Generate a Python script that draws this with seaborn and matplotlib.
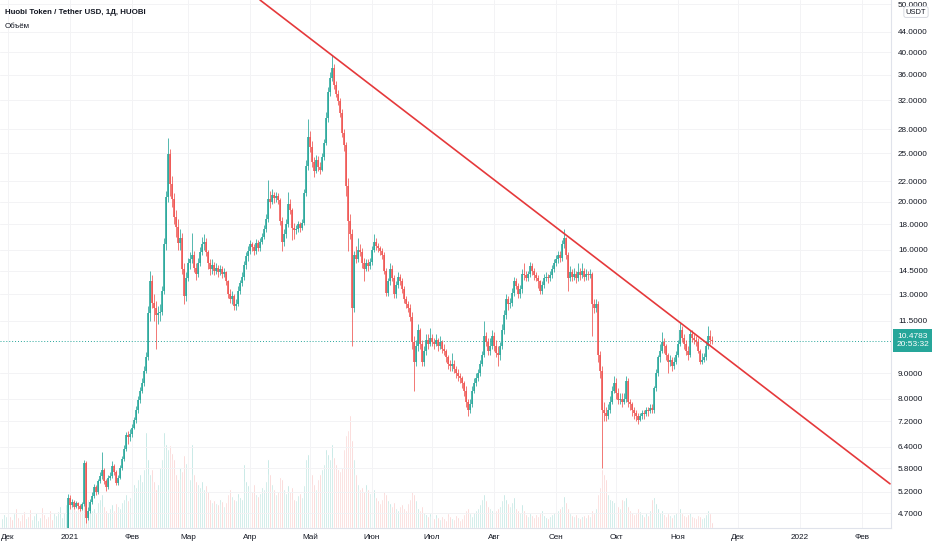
import numpy as np
import pandas as pd
import matplotlib
matplotlib.use('Agg')
import matplotlib.pyplot as plt
import matplotlib.transforms as mtransforms
from matplotlib.ticker import FixedLocator, FixedFormatter, NullLocator
import seaborn as sns

# daily HT/USDT candles, 2020-11-28 .. 2021-11-18 (open = previous close)
start_date = '2020-11-28'
first_open = 4.18

close = [
    4.20, 4.24, 4.30,
    # Dec
    4.32, 4.28, 4.25, 4.27, 4.23, 4.20, 4.18, 4.16, 4.14, 4.17, 4.15, 4.12, 4.14, 4.17, 4.19, 4.22,
    4.25, 4.21, 4.18, 4.16, 4.14, 4.12, 4.10, 4.13, 4.16, 4.19, 4.21, 4.23, 4.26, 4.28, 5.05,
    # Jan
    4.88, 4.95, 4.85, 4.92, 4.86, 4.80, 4.90, 5.95, 4.60, 4.75, 4.95, 5.10, 5.30, 5.20, 5.45, 5.60,
    5.75, 5.45, 5.30, 5.55, 5.60, 5.85, 5.70, 5.40, 5.55, 5.80, 6.05, 6.35, 6.75, 6.70, 6.80,
    # Feb
    7.00, 7.25, 7.60, 7.95, 8.30, 8.60, 9.10, 9.70, 11.9, 13.8, 12.5, 12.2, 11.8, 11.9, 12.0, 13.2,
    16.4, 20.4, 24.9, 21.7, 20.2, 18.6, 17.8, 16.5, 16.9, 14.6, 12.9, 14.0,
    # Mar
    15.0, 15.3, 15.6, 14.7, 14.3, 15.0, 15.8, 16.4, 16.6, 15.8, 15.0, 14.6, 14.9, 14.5, 14.7, 14.4,
    14.6, 14.3, 14.4, 13.8, 13.0, 12.7, 12.9, 12.3, 12.4, 13.2, 13.7, 14.1, 14.9, 15.5, 15.9,
    # Apr
    16.4, 16.2, 15.9, 16.5, 16.1, 16.6, 17.0, 17.6, 18.4, 20.2, 20.0, 20.6, 20.3, 20.5, 20.1, 18.3,
    16.6, 17.2, 18.0, 19.8, 19.2, 17.7, 17.5, 17.6, 18.0, 17.7, 18.1, 20.8, 23.6, 27.0,
    # May
    25.8, 24.0, 23.0, 24.2, 23.5, 23.2, 24.6, 26.3, 29.5, 33.2, 35.5, 37.2, 34.3, 33.0, 31.9, 30.2,
    27.5, 26.0, 21.5, 18.3, 17.2, 12.2, 15.6, 15.3, 16.0, 15.8, 15.0, 14.6, 15.0, 14.8, 15.1,
    # Jun
    16.0, 16.6, 16.3, 16.1, 15.9, 15.6, 14.5, 13.1, 13.8, 14.6, 14.0, 13.0, 13.6, 14.1, 13.8, 13.3,
    12.7, 12.4, 12.2, 11.7, 10.4, 9.5, 10.2, 11.0, 10.3, 9.5, 10.0, 10.5, 10.3, 10.6,
    # Jul
    10.4, 10.3, 10.5, 10.2, 10.4, 10.1, 10.0, 9.7, 9.4, 9.3, 9.4, 9.2, 9.0, 8.9, 8.8, 8.6,
    8.3, 7.9, 7.6, 7.8, 8.3, 8.6, 8.8, 9.0, 9.4, 9.8, 10.7, 10.4, 10.0, 10.2, 10.7,
    # Aug
    10.2, 9.9, 9.8, 10.2, 11.0, 11.8, 12.7, 12.4, 12.5, 13.1, 13.8, 13.5, 13.0, 13.3, 14.3, 14.2,
    14.0, 14.3, 14.8, 14.5, 14.2, 14.0, 13.8, 13.2, 13.6, 14.0, 14.1, 14.0, 14.2, 14.6, 15.0,
    # Sep
    15.3, 15.6, 15.4, 16.4, 16.9, 15.6, 14.0, 14.4, 14.1, 14.3, 14.0, 14.4, 14.2, 14.5, 14.1, 14.3,
    14.2, 14.3, 12.4, 12.2, 12.4, 9.8, 9.1, 7.6, 7.5, 7.4, 7.6, 7.9, 8.3, 8.6,
    # Oct
    8.2, 7.95, 8.0, 7.9, 8.0, 8.7, 7.9, 7.8, 7.6, 7.5, 7.4, 7.25, 7.4, 7.5, 7.45, 7.6,
    7.55, 7.65, 7.6, 8.4, 9.0, 9.7, 10.0, 10.4, 10.2, 9.8, 9.5, 9.6, 9.3, 9.5, 9.8,
    # Nov
    10.3, 11.0, 10.6, 10.3, 10.0, 9.8, 10.8, 10.6, 10.5, 10.4, 10.0, 9.5, 9.6, 9.7, 10.2, 10.7,
    10.5, 10.4783,
]

high = [
    4.26, 4.28, 4.34,
    4.36, 4.35, 4.31, 4.30, 4.29, 4.25, 4.22, 4.20, 4.19, 4.20, 4.19, 4.17, 4.17, 4.20, 4.22, 4.25,
    4.28, 4.27, 4.23, 4.20, 4.18, 4.16, 4.14, 4.16, 4.19, 4.22, 4.24, 4.26, 4.29, 4.32, 5.15,
    5.12, 5.02, 4.99, 4.97, 4.95, 4.90, 4.96, 6.02, 6.00, 4.85, 5.02, 5.18, 5.38, 5.36, 5.52, 5.70,
    6.25, 5.80, 5.50, 5.62, 5.70, 6.00, 5.90, 5.75, 5.62, 5.88, 6.12, 6.45, 6.85, 6.90, 6.95,
    7.10, 7.35, 7.75, 8.10, 8.45, 8.80, 9.30, 9.95, 12.3, 14.5, 14.2, 13.0, 12.6, 12.3, 12.4, 13.5,
    16.9, 21.0, 26.9, 25.5, 22.5, 20.8, 19.2, 18.4, 17.6, 17.3, 15.0, 14.4,
    15.4, 15.8, 17.3, 15.9, 15.0, 15.4, 16.2, 17.0, 17.2, 16.9, 16.0, 15.3, 15.3, 15.1, 15.0, 14.9,
    14.9, 14.8, 14.7, 14.5, 13.9, 13.3, 13.2, 13.0, 12.7, 13.5, 13.9, 14.4, 15.2, 15.8, 16.3,
    16.7, 16.6, 16.4, 16.8, 16.7, 16.9, 17.3, 17.9, 18.9, 22.1, 21.0, 21.2, 20.9, 20.9, 20.8, 20.3,
    18.6, 17.6, 18.4, 20.9, 20.2, 19.4, 18.1, 17.9, 18.3, 18.2, 18.4, 21.2, 24.2, 29.3,
    27.8, 26.5, 24.6, 24.8, 24.7, 24.0, 25.0, 26.8, 30.3, 34.0, 36.5, 39.5, 37.8, 35.0, 33.6, 32.4,
    30.8, 28.0, 26.4, 22.3, 18.9, 17.6, 15.9, 16.3, 16.9, 16.4, 16.1, 15.4, 15.3, 15.3, 15.4,
    16.3, 17.2, 16.9, 16.5, 16.3, 16.1, 15.8, 14.7, 14.0, 15.0, 14.9, 14.2, 13.8, 14.4, 14.3, 14.0,
    13.5, 12.9, 12.6, 12.4, 12.0, 10.7, 10.5, 11.3, 11.1, 10.5, 10.2, 10.8, 10.8, 11.1,
    10.8, 10.6, 10.8, 10.6, 10.7, 10.5, 10.3, 10.1, 9.8, 9.6, 9.9, 9.6, 9.3, 9.2, 9.0, 8.9,
    8.7, 8.5, 8.0, 8.0, 8.5, 8.8, 9.0, 9.2, 9.6, 10.0, 11.5, 10.9, 10.6, 10.6, 11.0,
    10.9, 10.5, 10.2, 10.4, 11.3, 12.1, 13.0, 12.9, 12.8, 13.4, 14.1, 14.0, 13.7, 13.6, 14.6, 15.0,
    14.5, 14.5, 15.1, 15.0, 14.7, 14.4, 14.2, 13.9, 13.8, 14.3, 14.4, 14.3, 14.5, 14.9, 15.3,
    15.6, 15.9, 15.9, 16.7, 17.6, 17.0, 15.8, 14.8, 14.6, 14.7, 14.5, 15.0, 14.7, 15.0, 14.7, 14.6,
    14.5, 14.6, 14.4, 12.7, 12.7, 12.6, 10.0, 9.3, 7.9, 7.7, 7.8, 8.1, 8.5, 8.9,
    8.8, 8.4, 8.2, 8.2, 8.2, 8.9, 8.8, 8.0, 7.9, 7.7, 7.6, 7.5, 7.5, 7.6, 7.6, 7.7,
    7.7, 7.8, 7.8, 8.5, 9.2, 9.8, 10.3, 10.9, 10.6, 10.3, 9.9, 9.8, 9.7, 9.7, 10.0,
    10.5, 11.4, 11.2, 10.8, 10.5, 10.2, 11.0, 11.0, 10.8, 10.7, 10.6, 10.1, 9.9, 9.9, 10.4, 11.2,
    11.0, 10.7,
]

low = [
    4.14, 4.18, 4.21,
    4.27, 4.25, 4.22, 4.22, 4.20, 4.17, 4.15, 4.13, 4.11, 4.12, 4.12, 4.09, 4.10, 4.12, 4.15, 4.17,
    4.20, 4.18, 4.15, 4.13, 4.11, 4.09, 4.07, 4.08, 4.11, 4.14, 4.17, 4.19, 4.21, 4.23, 4.25,
    4.80, 4.84, 4.80, 4.82, 4.80, 4.74, 4.78, 4.86, 4.50, 4.55, 4.70, 4.90, 5.05, 5.12, 5.15, 5.40,
    5.52, 5.38, 5.22, 5.25, 5.48, 5.55, 5.62, 5.35, 5.35, 5.50, 5.75, 5.98, 6.28, 6.50, 6.58,
    6.70, 6.95, 7.15, 7.50, 7.85, 8.20, 8.50, 9.00, 9.60, 11.5, 12.2, 11.5, 10.1, 11.3, 11.5, 11.8,
    13.0, 16.0, 20.0, 20.5, 19.5, 18.0, 17.0, 16.0, 16.0, 14.3, 12.4, 12.6,
    13.8, 14.6, 15.0, 14.4, 13.9, 14.1, 14.8, 15.6, 16.0, 15.5, 14.6, 14.2, 14.3, 14.2, 14.3, 14.1,
    14.2, 14.0, 14.1, 13.6, 12.8, 12.5, 12.4, 12.1, 12.1, 12.3, 13.0, 13.5, 13.9, 14.6, 15.2,
    15.7, 15.9, 15.6, 15.7, 15.9, 15.9, 16.4, 16.8, 17.4, 18.2, 19.4, 19.8, 19.9, 20.0, 19.8, 17.9,
    15.9, 16.3, 16.9, 17.8, 18.9, 16.7, 16.8, 17.2, 17.4, 17.4, 17.5, 17.9, 20.5, 23.2,
    25.2, 23.5, 22.4, 22.8, 23.0, 22.7, 23.0, 24.3, 26.0, 29.0, 32.6, 35.0, 33.8, 32.5, 31.3, 29.6,
    27.0, 25.3, 20.5, 15.9, 16.8, 10.2, 12.0, 15.0, 15.1, 15.5, 14.7, 13.8, 14.5, 14.5, 14.6,
    14.9, 15.8, 16.0, 15.8, 15.6, 15.3, 14.3, 12.9, 12.9, 13.6, 13.8, 12.8, 12.8, 13.4, 13.6, 13.1,
    12.5, 12.2, 12.0, 11.5, 10.1, 8.3, 9.3, 10.0, 10.1, 9.3, 9.3, 9.8, 10.1, 10.2,
    10.2, 10.1, 10.2, 10.0, 10.1, 9.9, 9.8, 9.5, 9.2, 9.1, 9.1, 9.0, 8.8, 8.7, 8.6, 8.4,
    8.1, 7.7, 7.4, 7.5, 7.7, 8.2, 8.5, 8.7, 8.9, 9.3, 9.7, 10.2, 9.8, 9.8, 10.1,
    10.0, 9.7, 9.3, 9.6, 10.1, 10.8, 11.6, 12.1, 12.2, 12.3, 12.9, 13.3, 12.8, 12.8, 13.1, 13.9,
    13.8, 13.8, 14.1, 14.2, 13.9, 13.8, 13.4, 13.0, 13.0, 13.4, 13.8, 13.7, 13.8, 14.0, 14.4,
    14.8, 15.0, 15.1, 15.2, 16.1, 15.3, 13.2, 13.8, 13.8, 13.9, 13.7, 13.8, 13.9, 14.0, 13.8, 13.9,
    13.9, 14.0, 10.7, 11.9, 12.0, 9.5, 8.8, 5.8, 7.2, 7.2, 7.3, 7.5, 7.8, 8.2,
    8.0, 7.8, 7.8, 7.7, 7.8, 7.9, 7.7, 7.6, 7.4, 7.3, 7.2, 7.1, 7.2, 7.3, 7.3, 7.4,
    7.4, 7.5, 7.5, 7.5, 8.3, 8.9, 9.5, 9.9, 9.9, 9.6, 9.0, 9.3, 9.1, 9.2, 9.4,
    9.7, 10.2, 10.4, 10.1, 9.8, 9.6, 9.7, 10.4, 10.3, 10.2, 9.9, 9.4, 9.4, 9.5, 9.6, 10.1,
    10.3, 10.3,
]

volume = [
    10, 14, 12,
    18, 12, 9, 15, 20, 11, 8, 14, 17, 10, 12, 19, 9, 13, 16, 8, 11, 21, 14, 10, 12, 18, 9, 15, 13,
    17, 22, 11, 16, 24, 30,
    28, 22, 25, 18, 26, 20, 24, 40, 42, 30, 22, 18, 20, 15, 26, 30, 35, 22, 18, 16, 20, 24, 18, 25,
    22, 20, 26, 30, 35, 28, 32,
    38, 45, 42, 50, 55, 48, 60, 98, 70, 55, 60, 48, 40, 45, 62, 70, 98, 85, 80, 84, 76, 70, 55, 50,
    62, 58, 74, 66,
    60, 50, 85, 55, 48, 45, 42, 48, 40, 44, 38, 30, 26, 28, 25, 24, 30, 27, 22, 26, 35, 40, 33, 30,
    28, 36, 32, 30, 65, 48, 44,
    40, 38, 45, 35, 33, 36, 42, 40, 48, 70, 55, 45, 40, 35, 38, 52, 50, 40, 36, 44, 38, 42, 30, 28,
    34, 36, 32, 44, 70, 75,
    60, 55, 45, 40, 50, 55, 60, 65, 80, 75, 70, 85, 72, 65, 60, 58, 62, 80, 95, 100, 115, 90, 70,
    55, 45, 40, 42, 38, 45, 40, 36,
    35, 40, 32, 28, 25, 30, 38, 35, 28, 25, 22, 26, 20, 18, 22, 24, 20, 18, 25, 30, 38, 35, 28, 20,
    18, 22, 16, 14, 12, 15,
    12, 10, 14, 11, 9, 12, 10, 8, 15, 12, 10, 9, 13, 11, 8, 10, 14, 18, 20, 15, 12, 16, 18, 20, 24,
    30, 35, 28, 22, 20, 18,
    16, 18, 20, 22, 28, 35, 30, 25, 22, 26, 32, 20, 18, 16, 24, 18, 14, 12, 15, 13, 11, 14, 12, 15,
    18, 13, 11, 10, 12, 14, 16,
    15, 18, 20, 22, 33, 26, 20, 15, 13, 12, 14, 11, 10, 12, 13, 11, 14, 12, 18, 15, 20, 35, 42, 60,
    55, 50, 35, 30, 28, 26,
    25, 22, 20, 30, 28, 32, 22, 18, 16, 14, 15, 20, 17, 14, 12, 15, 13, 18, 30, 32, 25, 20, 16, 18,
    14, 12, 15, 13, 11, 14, 16,
    18, 20, 15, 13, 12, 14, 16, 12, 11, 10, 13, 12, 10, 11, 14, 18, 15, 6,
]

# trend line drawn through two anchor points (log scale -> straight line)
trend_dates = ['2021-04-06', '2022-02-15']
trend_prices = [51.0, 5.39]

price_ticks = [4.7, 5.2, 5.8, 6.4, 7.2, 8.0, 9.0, 11.5, 13.0, 14.5, 16.0, 18.0, 20.0,
               22.0, 25.0, 28.0, 32.0, 36.0, 40.0, 44.0, 50.0]
month_dates = ['2020-12-01', '2021-01-01', '2021-02-01', '2021-03-01', '2021-04-01',
               '2021-05-01', '2021-06-01', '2021-07-01', '2021-08-01', '2021-09-01',
               '2021-10-01', '2021-11-01', '2021-12-01', '2022-01-01', '2022-02-01']
month_labels = ['Дек', '2021', 'Фев', 'Мар', 'Апр', 'Май', 'Июн', 'Июл', 'Авг',
                'Сен', 'Окт', 'Ноя', 'Дек', '2022', 'Фев']

title = 'Huobi Token / Tether USD, 1Д, HUOBI'
last_time = '20:53:32'

UP = '#26a69a'
DOWN = '#ef5350'
TXT = '#131722'

sns.set_style('white')
plt.rcParams['font.family'] = ['Liberation Sans', 'DejaVu Sans']

close = np.array(close)
n = len(close)
assert len(high) == n and len(low) == n and len(volume) == n, (n, len(high), len(low), len(volume))
opn = np.r_[first_open, close[:-1]]
high = np.maximum(np.array(high), np.maximum(opn, close))
low = np.minimum(np.array(low), np.minimum(opn, close))

ref = pd.Timestamp('2020-12-01')
dates = pd.date_range(start_date, periods=n, freq='D')
day = np.asarray((dates - ref).days, dtype=float)
is_up = close >= opn

df = pd.DataFrame({'day': day, 'volume': volume,
                   'dir': np.where(is_up, 'up', 'down')})

W, H = 932, 550
fig = plt.figure(figsize=(W / 100, H / 100), dpi=100)
rect = [0, (H - 528) / H, 891 / W, 528 / H]
axv = fig.add_axes(rect)
ax = fig.add_axes(rect, sharex=axv)
ax.patch.set_alpha(0)

# volume bars (behind the candles)
sns.barplot(data=df, x='day', y='volume', hue='dir', native_scale=True, dodge=False,
            palette={'up': '#abddd8', 'down': '#f9c8c7'}, saturation=1, width=0.6,
            errorbar=None, legend=False, ax=axv)
axv.set_ylim(0, max(volume) * 528 / 113)
axv.set_yticks([])
axv.set_xlabel('')
axv.set_ylabel('')
for s in axv.spines.values():
    s.set_visible(False)
axv.tick_params(axis='x', bottom=False, labelbottom=False)

# candles
col = np.where(is_up, UP, DOWN)
ax.vlines(day, low, high, colors=col, lw=0.55, zorder=3)
ax.vlines(day, np.minimum(opn, close), np.maximum(opn, close), colors=col, lw=1.15, zorder=4)

# trend line
trend_days = (pd.to_datetime(trend_dates) - ref).days.astype(float)
sns.lineplot(x=np.asarray(trend_days), y=trend_prices, color='#e5393b', lw=1.2,
             estimator=None, ax=ax, zorder=5)

ax.set_yscale('log')
ax.set_ylim(4.39, 51.0)
ax.set_xlim(-4, 441.5)
ax.yaxis.set_major_locator(FixedLocator(price_ticks))
ax.yaxis.set_major_formatter(FixedFormatter([f'{v:.4f}' for v in price_ticks]))
ax.yaxis.set_minor_locator(NullLocator())
ax.yaxis.tick_right()
ax.tick_params(axis='y', length=0, pad=5, labelsize=5.9, labelcolor=TXT)

month_pos = (pd.to_datetime(month_dates) - ref).days.astype(float)
ax.set_xticks(np.asarray(month_pos))
ax.set_xticklabels(month_labels)
ax.tick_params(axis='x', length=0, pad=4, labelsize=5.9, labelcolor=TXT)
ax.set_xlabel('')
ax.set_ylabel('')

ax.grid(True, color='#f3f3f5', lw=0.7)
ax.set_axisbelow(True)
for name, s in ax.spines.items():
    if name in ('right', 'bottom'):
        s.set_color('#e0e3eb')
        s.set_linewidth(0.8)
    else:
        s.set_visible(False)

# last price line and label
last = close[-1]
ax.axhline(last, color=UP, ls=(0, (1, 2)), lw=0.7, zorder=2)
trans = mtransforms.blended_transform_factory(ax.transAxes, ax.transData)
ax.text(1.0 + 6 / 891, last, f'{last:.4f}\n{last_time}', transform=trans, ha='left',
        va='center', fontsize=6.0, color='white', linespacing=1.2, clip_on=False,
        bbox=dict(boxstyle='square,pad=0.5', fc=UP, ec='none'), zorder=10)

fig.text(916 / W, 1 - 12 / H, 'USDT', ha='center', va='center', fontsize=5.4, color=TXT,
         bbox=dict(boxstyle='round,pad=0.25', fc='white', ec='#d1d4dc', lw=0.6), zorder=10)

fig.text(5 / W, 1 - 12 / H, title, ha='left', va='center', fontsize=5.7,
         fontweight='bold', color=TXT)
fig.text(5 / W, 1 - 26 / H, 'Объём', ha='left', va='center', fontsize=5.7, color=TXT)

fig.savefig('out.png', dpi=100)
